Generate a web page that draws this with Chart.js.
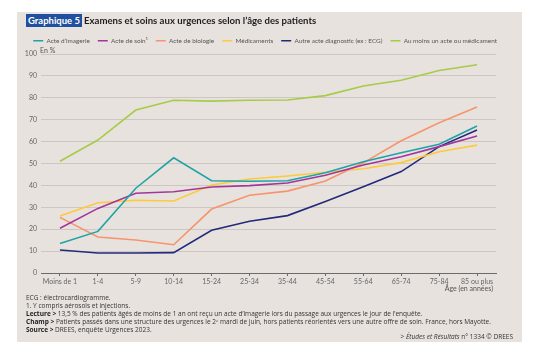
<!DOCTYPE html>
<html>
<head>
<meta charset="utf-8">
<script src="https://cdn.jsdelivr.net/npm/chart.js@4/dist/chart.umd.min.js"></script>
<style>
  html, body { margin:0; padding:0; background:#ffffff; }
  body { width:536px; height:352px; position:relative; overflow:hidden; font-family: Lato, "Open Sans", sans-serif; }
  #panel { position:absolute; left:17px; top:12px; width:505px; height:330px; background:#e8e2df; }
  #cv { position:absolute; left:0; top:0; }
  .t { position:absolute; white-space:nowrap; }
  #tag { left:26px; top:14px; height:13px; line-height:13px; padding:0 2px; background:#1f4f9e; color:#fff; font-weight:700; font-size:9.5px; }
  #title { left:84px; top:14px; line-height:13px; color:#1d1d1d; font-weight:700; font-size:9.6px; }
  #unit { left:40px; top:46px; font-size:7px; color:#555; }
  #xtitle { right:43px; top:284px; font-size:7px; color:#555; }
  .fn { left:26px; font-family:"Open Sans", sans-serif; font-size:6.5px; line-height:8px; color:#333; }
  .fn b { font-family:"Open Sans", sans-serif; font-weight:700; font-size:6.5px; color:#222; }
  .fn sup { font-size:4px; line-height:0; vertical-align:2px; }
  #src2 { right:23px; top:332px; font-family:"Open Sans", sans-serif; font-size:6.5px; color:#333; }
</style>
</head>
<body>
<div id="panel"></div>
<canvas id="cv" width="536" height="352"></canvas>
<div class="t" id="tag">Graphique 5</div>
<div class="t" id="title">Examens et soins aux urgences selon l’âge des patients</div>
<div class="t" id="unit">En %</div>
<div class="t" id="xtitle">Âge (en années)</div>
<div class="t fn" style="top:294px">ECG : électrocardiogramme.</div>
<div class="t fn" style="top:302px">1. Y compris aérosols et injections.</div>
<div class="t fn" style="top:310px"><b>Lecture &gt;</b> 13,5 % des patients âgés de moins de 1 an ont reçu un acte d’imagerie lors du passage aux urgences le jour de l’enquête.</div>
<div class="t fn" style="top:318px"><b>Champ &gt;</b> Patients passés dans une structure des urgences le 2<sup>e</sup> mardi de juin, hors patients réorientés vers une autre offre de soin. France, hors Mayotte.</div>
<div class="t fn" style="top:326px"><b>Source &gt;</b> DREES, enquête Urgences 2023.</div>
<div class="t" id="src2">&gt; <i>Études et Résultats</i> n° 1334 © DREES</div>
<script>
const categories = ['Moins de 1','1-4','5-9','10-14','15-24','25-34','35-44','45-54','55-64','65-74','75-84','85 ou plus'];
const seriesNames = ['Acte d’imagerie','Acte de soin¹','Acte de biologie','Médicaments','Autre acte diagnostic (ex : ECG)','Au moins un acte ou médicament'];
const imagerie   = [13.5, 19.0, 38.7, 52.6, 42.1, 41.9, 42.1, 45.8, 50.8, 54.9, 58.8, 67.1];
const soin       = [20.4, 29.5, 36.4, 37.1, 39.3, 39.9, 41.1, 44.6, 49.3, 53.1, 57.7, 62.6];
const biologie   = [25.4, 16.4, 15.1, 12.9, 29.2, 35.5, 37.4, 42.0, 50.3, 60.4, 68.6, 75.8];
const medicaments= [26.0, 32.1, 33.2, 32.9, 40.2, 42.9, 44.3, 46.0, 47.6, 50.4, 55.4, 58.4];
const autreActe  = [10.5,  9.1,  9.1,  9.3, 19.5, 23.6, 26.2, 32.7, 39.4, 46.3, 57.7, 65.3];
const auMoinsUn  = [51.0, 60.7, 74.4, 78.9, 78.5, 78.9, 79.0, 81.0, 85.4, 88.0, 92.5, 95.1];
const yTicks = [0,10,20,30,40,50,60,70,80,90,100];

const colors = ['#1fa3a5','#a3369b','#f6946c','#fdca3a','#232a7b','#a6cc47'];
const values = [imagerie, soin, biologie, medicaments, autreActe, auMoinsUn];

new Chart(document.getElementById('cv'), {
  type: 'line',
  data: {
    labels: categories,
    datasets: values.map((v, i) => ({
      label: seriesNames[i], data: v, borderColor: colors[i], backgroundColor: colors[i],
      borderWidth: 1.6, pointRadius: 0, tension: 0, fill: false
    }))
  },
  options: {
    responsive: false, animation: false, devicePixelRatio: 1,
    layout: { padding: { top: 29.6, left: 17, right: 31, bottom: 0 } },
    plugins: {
      legend: {
        position: 'top', align: 'end',
        labels: {
          usePointStyle: true, pointStyle: 'line', pointStyleWidth: 10,
          boxHeight: 7, padding: 8, color: '#555',
          font: { family: 'Lato', size: 6.4 }
        }
      },
      tooltip: { enabled: false }
    },
    scales: {
      x: {
        offset: true,
        grid: { drawOnChartArea: false, drawTicks: true, tickLength: 3, color: '#6b6b6b', offset: false },
        border: { display: true, color: '#6b6b6b', width: 1 },
        ticks: { color: '#666', padding: 2, font: { family: 'Lato', size: 7 }, maxRotation: 0, autoSkip: false },
        afterFit: s => { s.height = 79; }
      },
      y: {
        min: 0, max: 100,
        afterBuildTicks: s => { s.ticks = yTicks.map(v => ({ value: v })); },
        grid: { color: '#cdc7c4', lineWidth: 1, drawTicks: false },
        border: { display: false },
        ticks: { color: '#666', padding: 4, font: { family: 'Lato', size: 7 } },
        afterFit: s => { s.width = 24; }
      },
      yr: {
        type: 'linear', position: 'right', display: true,
        grid: { display: false, drawTicks: false }, border: { display: false },
        ticks: { display: false },
        afterFit: s => { s.width = 9; }
      }
    }
  }
});
</script>
</body>
</html>
